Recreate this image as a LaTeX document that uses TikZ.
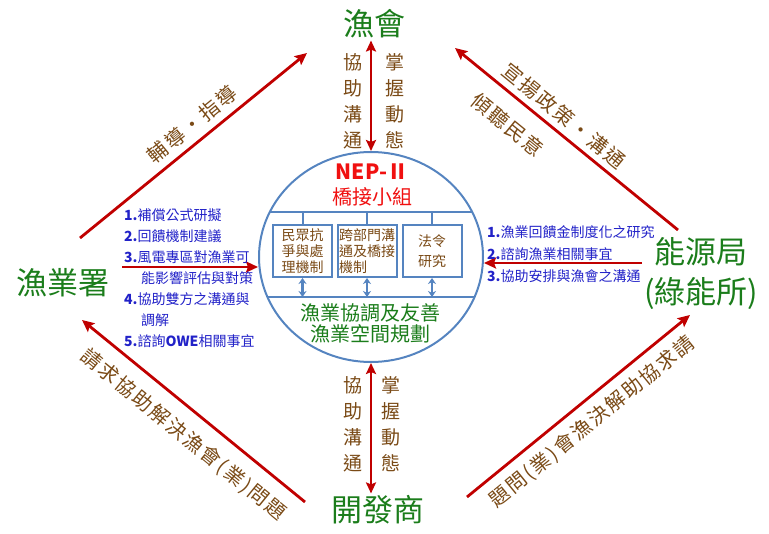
\documentclass[tikz,border=0pt]{standalone}
\usepackage{fontspec}
\setmainfont{Noto Sans CJK TC}
\usepackage{tikz}
\usetikzlibrary{arrows.meta, shapes.geometric, positioning, calc}

\definecolor{orggreen}{HTML}{1B7D1B}
\definecolor{labelbrown}{HTML}{7A4A16}
\definecolor{itemblue}{HTML}{2222C8}
\definecolor{arrowred}{HTML}{C00000}
\definecolor{nepred}{HTML}{F01010}
\definecolor{frameblue}{HTML}{5584C0}

\begin{document}
\begin{tikzpicture}[x=1pt, y=-1pt,
	bigname/.style={text=orggreen, font=\fontsize{31}{40}\selectfont, inner sep=2pt},
	vlabel/.style={text=labelbrown, font=\fontsize{19}{26}\selectfont, align=center, inner sep=0pt},
	dlabel/.style={text=labelbrown, font=\fontsize{20}{24}\selectfont\addfontfeatures{LetterSpace=10}, inner sep=0pt},
	itemlist/.style={text=itemblue, font=\fontsize{14}{21}\selectfont, align=left, anchor=north west, inner sep=0pt},
	redarr/.style={-{Stealth[length=12pt, width=11pt, inset=2pt]}, line width=2.8pt, draw=arrowred},
	bothred/.style={{Stealth[length=11pt, width=10pt, inset=2pt]}-{Stealth[length=11pt, width=10pt, inset=2pt]}, line width=2.6pt, draw=arrowred},
	frame/.style={draw=frameblue, line width=2pt},
	mechbox/.style={frame, minimum width=59pt, minimum height=52pt, inner sep=1pt, text=labelbrown, font=\fontsize{14}{16}\selectfont},
	linkarr/.style={{Stealth[length=6pt, width=8pt]}-{Stealth[length=6pt, width=8pt]}, line width=2.2pt, draw=frameblue}]

	\useasboundingbox (0,0) rectangle (769,534);

	\node[ellipse, frame, minimum width=224pt, minimum height=210pt, inner sep=0pt] (nep) at (371,257) {};

	\node[text=nepred, font=\fontsize{21}{24}\selectfont\bfseries] (title) at (372,172) {NEP-Ⅱ};

	\node[text=nepred, font=\fontsize{20}{24}\selectfont, below=1pt of title] (team) {橋接小組};

	\coordinate (topbar) at (371,212);
	\coordinate (lowbar) at (371,297);

	\begin{scope}
		\clip (nep.center) ellipse [x radius=112pt, y radius=105pt];
		\draw[frame] (nep.west |- topbar) -- (nep.east |- topbar);
		\draw[frame] (nep.west |- lowbar) -- (nep.east |- lowbar);
	\end{scope}

	\node[mechbox, align=center] (protest) at (302.5,251) {民眾抗\\爭與處\\理機制};

	\node[mechbox, align=left] (crossdept) at (367,251) {跨部門溝\\通及橋接\\機制};

	\node[mechbox, align=center, font=\fontsize{14}{20}\selectfont] (lawstudy) at (432,251) {法令\\研究};

	\draw[frame] (protest.north) -- (protest.north |- topbar);
	\draw[frame] (crossdept.north) -- (crossdept.north |- topbar);
	\draw[frame] (lawstudy.north) -- (lawstudy.north |- topbar);

	\draw[linkarr] (protest.south) -- (protest.south |- lowbar);
	\draw[linkarr] (crossdept.south) -- (crossdept.south |- lowbar);
	\draw[linkarr] (lawstudy.south) -- (lawstudy.south |- lowbar);

	\node[text=orggreen, font=\fontsize{20}{21}\selectfont, align=center] (friendly) at (370,323) {漁業協調及友善\\漁業空間規劃};

	\node[bigname] (hui) at (374,24) {漁會};

	\node[bigname] (dev) at (378,510) {開發商};

	\node[bigname] (fa) at (63,283) {漁業署};

	\node[bigname, align=center] (boe) at (701,274) {能源局\\(綠能所)};

	\draw[bothred] (nep.north |- hui.south) -- (nep.north);

	\draw[bothred] (nep.south) -- (nep.south |- dev.north);

	\node[vlabel] (helptop) at (353,101) {協\\助\\溝\\通};

	\node[vlabel] (grasptop) at (395,101) {掌\\握\\動\\態};

	\node[vlabel] (helpbot) at (353,424) {協\\助\\溝\\通};

	\node[vlabel] (graspbot) at (391,424) {掌\\握\\動\\態};

	\coordinate (tlfoot) at (80,238);
	\coordinate (tlhead) at (307,53);
	\draw[redarr] (tlfoot) -- (tlhead);
	\node[dlabel, rotate=39.2] (guide) at (192,124) {輔導・指導};

	\coordinate (trfoot) at (678,230);
	\coordinate (trhead) at (455,48);
	\draw[redarr] (trfoot) -- (trhead);
	\node[dlabel, rotate=-39.2] (promote) at (564,116) {宣揚政策・溝通};
	\node[dlabel, rotate=-39.2] (listen) at (508,125) {傾聽民意};

	\coordinate (blfoot) at (305,502);
	\coordinate (blhead) at (82,320);
	\draw[redarr] (blfoot) -- (blhead);
	\node[dlabel, rotate=-39.2] (askleft) at (183,435) {請求協助解決漁會(業)問題};

	\coordinate (brfoot) at (467,497);
	\coordinate (brhead) at (690,315);
	\draw[redarr] (brfoot) -- (brhead);
	\node[dlabel, rotate=39.2] (askright) at (592,422) {題問(業)會漁決解助協求請};

	\coordinate (fafoot) at (122,267);
	\draw[redarr] (fafoot) -- ([yshift=-10pt]nep.west);

	\coordinate (boefoot) at (642,263);
	\draw[redarr] (boefoot) -- ([yshift=-6pt]nep.east);

	\node[itemlist] (falist) at (124,209) {\textbf{1.}補償公式研擬\\\textbf{2.}回饋機制建議\\\textbf{3.}風電專區對漁業可\\\hspace*{1.2em}能影響評估與對策\\\textbf{4.}協助雙方之溝通與\\\hspace*{1.2em}調解\\\textbf{5.}諮詢\textbf{OWE}相關事宜};

	\node[itemlist, font=\fontsize{14}{22}\selectfont] (boelist) at (487,225) {\textbf{1.}漁業回饋金制度化之研究\\\textbf{2.}諮詢漁業相關事宜\\\textbf{3.}協助安排與漁會之溝通};
\end{tikzpicture}
\end{document}
